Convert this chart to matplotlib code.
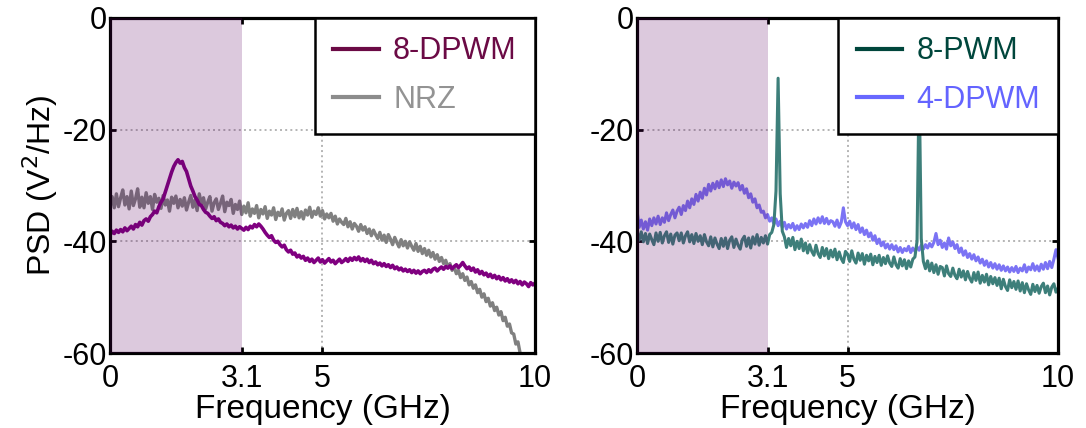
import matplotlib
matplotlib.use("Agg")
import matplotlib.pyplot as plt
import numpy as np

plt.rcParams["font.family"] = ["Liberation Sans", "DejaVu Sans"]
plt.rcParams["axes.unicode_minus"] = False

# frequency grid (GHz), 0.05 GHz step
freq = np.linspace(0, 10, 201)
band_edge = 3.1

# PSD values (dB V^2/Hz)
dpwm8 = [
    -38.9, -38.2, -38.6, -38.0, -38.4, -37.9, -38.3, -37.6, -38.1, -37.7,
    -37.3, -37.8, -37.0, -37.4, -36.6, -37.1, -36.3, -36.0, -36.4, -35.6,
    -35.2, -34.6, -34.9, -33.8, -33.0, -32.4, -31.2, -30.0, -28.8, -27.6,
    -26.6, -25.9, -25.4, -26.0, -25.7, -26.8, -27.5, -28.8, -30.1, -31.0,
    -32.0, -32.6, -33.4, -33.6, -34.3, -34.8, -35.0, -35.5, -35.9, -35.6,
    -36.3, -36.0, -36.6, -36.8, -37.2, -36.9, -37.4, -37.1, -37.6, -37.3,
    -37.8, -37.4, -37.7, -38.0, -37.5, -37.9, -37.3, -37.6, -37.0, -37.4,
    -36.9, -37.3, -37.8, -38.4, -38.9, -39.3, -39.0, -39.8, -40.2, -40.0,
    -40.6, -41.0, -40.7, -41.5, -41.9, -41.6, -42.3, -42.1, -42.8, -42.5,
    -43.0, -42.7, -43.4, -43.0, -43.6, -43.2, -43.8, -43.4, -43.0, -43.7,
    -43.3, -43.9, -43.5, -43.1, -43.7, -43.4, -44.0, -43.6, -43.2, -43.8,
    -43.5, -43.1, -43.6, -43.0, -43.4, -42.9, -43.3, -42.8, -43.5, -43.1,
    -43.6, -43.2, -43.8, -43.4, -44.0, -43.7, -44.2, -43.9, -44.4, -44.0,
    -44.5, -44.2, -44.7, -44.3, -44.9, -44.6, -45.1, -44.8, -45.3, -45.0,
    -45.4, -45.1, -45.6, -45.2, -45.7, -45.3, -45.8, -45.4, -45.2, -45.6,
    -45.1, -45.5, -45.0, -44.8, -45.3, -44.9, -44.6, -45.0, -44.5, -44.8,
    -44.4, -44.9, -44.5, -44.2, -44.7, -44.3, -43.8, -44.4, -44.9, -44.6,
    -45.2, -44.8, -45.5, -45.1, -45.8, -45.4, -46.0, -45.7, -46.3, -45.9,
    -46.5, -46.1, -46.7, -46.3, -46.9, -46.5, -47.1, -46.7, -47.3, -46.9,
    -47.4, -47.0, -47.6, -47.2, -47.8, -47.3, -47.6, -48.1, -47.4, -47.8,
    -47.5,
]

nrz = [
    -33.5, -32.0, -34.0, -31.5, -33.8, -32.2, -30.8, -33.5, -32.0, -34.2,
    -31.0, -33.6, -32.4, -30.6, -33.9, -32.1, -34.0, -31.3, -33.2, -32.0,
    -34.3, -31.6, -33.0, -32.3, -34.1, -31.8, -33.5, -32.6, -34.6, -32.1,
    -33.2, -31.9, -34.0, -32.5, -33.7, -32.2, -34.4, -33.0, -31.8, -33.9,
    -32.6, -34.5, -31.5, -33.3, -32.2, -34.2, -33.0, -32.0, -34.6, -33.1,
    -32.4, -34.3, -33.2, -31.9, -34.7, -33.0, -33.6, -32.5, -35.0, -33.4,
    -34.3, -32.8, -35.2, -33.7, -34.9, -33.1, -35.5, -34.2, -35.0, -33.6,
    -35.8, -34.3, -35.1, -33.8, -35.9, -34.6, -35.3, -34.0, -36.1, -34.8,
    -35.4, -34.2, -36.2, -35.0, -34.5, -35.9, -34.3, -35.6, -34.1, -35.8,
    -34.7, -36.0, -34.4, -35.3, -33.9, -35.7, -34.6, -35.2, -34.0, -35.5,
    -34.5, -36.0, -35.1, -35.8, -35.0, -36.4, -35.5, -36.9, -36.0, -36.6,
    -37.0, -35.9, -37.4, -36.5, -37.8, -36.8, -37.3, -38.2, -37.0, -38.0,
    -37.4, -38.6, -37.8, -39.0, -38.0, -38.8, -39.5, -38.4, -39.8, -38.9,
    -40.2, -38.8, -39.6, -40.6, -39.3, -40.2, -41.0, -39.7, -40.8, -40.0,
    -41.2, -40.1, -40.9, -41.6, -40.4, -41.8, -40.9, -42.2, -41.3, -42.5,
    -41.6, -42.8, -42.0, -43.2, -42.4, -43.6, -42.9, -44.0, -43.4, -44.6,
    -44.0, -45.2, -44.6, -45.8, -45.2, -46.5, -45.8, -47.0, -46.4, -47.8,
    -47.2, -48.4, -47.8, -49.2, -48.6, -50.0, -49.4, -50.8, -50.2, -51.6,
    -51.0, -52.4, -51.8, -53.2, -52.6, -54.2, -53.6, -55.2, -54.8, -56.4,
    -56.6, -58.4, -58.0, -60.0, -60.8, -61.6, -62.0, -62.6, -63.0, -63.4,
    -64.0,
]

pwm8 = [
    -38.2, -39.8, -38.3, -40.1, -38.6, -40.4, -38.7, -39.7, -40.6, -38.5,
    -40.0, -38.4, -40.3, -39.0, -38.3, -40.2, -38.7, -40.5, -38.9, -38.5,
    -39.9, -38.5, -40.3, -39.0, -38.3, -40.1, -38.8, -40.4, -38.6, -40.0,
    -39.0, -40.6, -38.8, -40.1, -40.8, -39.2, -41.0, -39.4, -40.5, -41.3,
    -39.5, -40.9, -39.4, -41.3, -39.8, -39.2, -41.1, -39.6, -40.7, -41.4,
    -39.7, -39.1, -40.9, -39.4, -41.2, -39.2, -40.5, -38.8, -40.7, -39.3,
    -40.3, -39.0, -40.5, -38.8, -38.4, -37.0, -31.0, -10.8, -31.5, -38.2,
    -39.2, -41.1, -39.5, -40.8, -39.3, -41.5, -40.0, -41.3, -39.6, -41.7,
    -40.3, -42.1, -40.6, -41.8, -42.5, -40.7, -42.2, -42.9, -41.1, -42.6,
    -41.3, -43.1, -41.6, -42.8, -41.4, -43.3, -41.9, -43.1, -43.8, -41.8,
    -42.3, -43.6, -41.7, -43.2, -43.9, -42.1, -43.4, -42.2, -44.1, -42.5,
    -43.5, -42.3, -44.2, -42.7, -43.8, -42.5, -44.3, -42.9, -44.0, -42.6,
    -43.9, -44.5, -42.8, -44.2, -44.8, -43.1, -44.4, -43.3, -44.9, -43.5,
    -44.6, -43.2, -42.8, -40.0, -11.0, -39.5, -43.6, -44.9, -43.5, -45.3,
    -43.9, -45.6, -44.2, -45.9, -44.5, -44.7, -46.2, -44.4, -45.8, -46.3,
    -44.8, -46.1, -46.7, -45.0, -46.4, -45.3, -46.9, -45.4, -46.6, -47.3,
    -45.6, -47.0, -45.5, -47.5, -46.1, -47.3, -45.9, -47.8, -46.3, -47.6,
    -46.5, -47.9, -46.6, -48.5, -46.8, -48.1, -48.8, -46.9, -48.3, -47.2,
    -48.6, -47.1, -48.9, -47.4, -49.2, -47.6, -48.7, -49.5, -47.7, -49.0,
    -47.9, -49.3, -48.1, -47.5, -49.2, -48.0, -49.6, -48.2, -47.6, -49.1,
    -48.4,
]

dpwm4 = [
    -34.5, -37.5, -36.2, -37.8, -36.5, -38.0, -36.0, -37.2, -35.8, -36.9,
    -35.5, -37.0, -35.8, -36.6, -34.9, -36.3, -35.2, -34.4, -35.8, -34.6,
    -33.9, -35.2, -33.6, -34.5, -32.8, -34.0, -32.4, -33.4, -31.6, -32.8,
    -31.2, -32.3, -30.5, -31.7, -29.8, -31.0, -29.6, -30.6, -29.3, -30.4,
    -29.0, -30.2, -28.8, -29.9, -29.2, -30.5, -29.4, -30.1, -29.5, -30.8,
    -30.0, -31.4, -30.6, -32.2, -31.5, -33.0, -32.4, -34.0, -33.5, -34.8,
    -34.6, -35.8, -35.2, -36.4, -35.8, -36.9, -36.0, -37.2, -36.4, -37.5,
    -36.6, -37.8, -37.0, -37.6, -36.8, -38.0, -37.2, -37.9, -36.9, -37.6,
    -36.8, -37.5, -36.3, -37.2, -36.0, -36.9, -35.8, -36.7, -35.6, -36.8,
    -35.9, -36.9, -36.3, -36.5, -37.3, -36.2, -37.5, -36.6, -34.0, -36.5,
    -37.2, -36.4, -37.6, -36.7, -37.9, -37.0, -38.4, -37.6, -38.8, -38.0,
    -39.2, -38.5, -39.8, -39.0, -40.4, -39.6, -40.8, -40.1, -41.2, -40.5,
    -41.4, -40.6, -41.5, -40.8, -41.9, -41.1, -42.0, -41.3, -41.7, -40.9,
    -42.0, -41.2, -41.8, -41.0, -41.6, -40.7, -41.4, -40.6, -41.2, -40.4,
    -41.0, -40.2, -38.6, -40.6, -39.8, -41.1, -40.3, -41.4, -39.4, -40.8,
    -40.1, -41.3, -40.6, -42.0, -41.2, -42.5, -41.7, -42.9, -42.2, -43.2,
    -42.4, -43.5, -42.8, -43.9, -43.2, -44.3, -43.5, -44.6, -43.8, -44.8,
    -44.0, -45.0, -44.2, -45.2, -44.4, -45.3, -44.6, -45.5, -44.7, -45.4,
    -44.5, -45.6, -44.8, -45.3, -44.2, -45.5, -44.6, -45.1, -44.0, -45.2,
    -44.4, -45.3, -44.1, -45.0, -43.8, -44.9, -43.6, -44.7, -43.2, -41.5,
    -43.0,
]

xticks = [0, 3.1, 5, 10]
xticklabels = ["0", "3.1", "5", "10"]
yticks = [-60, -40, -20, 0]


def style_axes(ax):
    ax.set_xlim(0, 10)
    ax.set_ylim(-60, 0)
    ax.set_xticks(xticks)
    ax.set_xticklabels(xticklabels)
    ax.set_yticks(yticks)
    ax.tick_params(direction="in", length=4, width=2, top=True, right=True,
                   labelsize=22)
    ax.tick_params(axis="x", pad=8)
    ax.tick_params(axis="y", pad=2)
    for sp in ax.spines.values():
        sp.set_linewidth(2.3)
    ax.grid(True, color="#b4b4b4", linestyle=":", linewidth=1.4, zorder=0)
    ax.xaxis.get_gridlines()[1].set_visible(False)
    ax.set_axisbelow(True)
    # shaded signal band, drawn over the traces
    ax.axvspan(0, band_edge, color="#5a0060", alpha=0.21, lw=0, zorder=3)
    ax.set_xlabel("Frequency (GHz)", fontsize=24, labelpad=0)


def add_legend(ax, handle_colors, text_colors):
    h, l = ax.get_legend_handles_labels()
    leg = ax.legend(h[::-1], l[::-1], loc="upper right", borderaxespad=0,
                    fancybox=False, framealpha=1, edgecolor="black",
                    fontsize=22, handlelength=1.5, handletextpad=0.45,
                    labelspacing=0.62, borderpad=0.6)
    leg.get_frame().set_linewidth(1.8)
    leg.set_zorder(6)
    for line, c in zip(leg.get_lines(), handle_colors):
        line.set_color(c)
        line.set_linewidth(3)
    for txt, c in zip(leg.get_texts(), text_colors):
        txt.set_color(c)


fig = plt.figure(figsize=(10.86, 4.28), dpi=100)
ax1 = fig.add_axes([0.1013, 0.1752, 0.3913, 0.783])
ax2 = fig.add_axes([0.5866, 0.1752, 0.3877, 0.783])

# left panel
ax1.plot(freq, nrz, color="#808080", lw=2.4, label="NRZ", zorder=2)
ax1.plot(freq, dpwm8, color="#800080", lw=2.6, label="8-DPWM", zorder=2)
style_axes(ax1)
ax1.set_ylabel("PSD (V$^2$/Hz)", fontsize=23, labelpad=2)
add_legend(ax1, ["#6b0a45", "#8c8c8c"], ["#6b0a45", "#939393"])

# right panel
ax2.plot(freq, dpwm4, color="#7b73f4", lw=2.2, label="4-DPWM", zorder=2)
ax2.plot(freq, pwm8, color="#3d7f7a", lw=2.2, label="8-PWM", zorder=2)
style_axes(ax2)
add_legend(ax2, ["#00463c", "#6868ff"], ["#00463c", "#6464ff"])

fig.savefig("out.png", dpi=100)
